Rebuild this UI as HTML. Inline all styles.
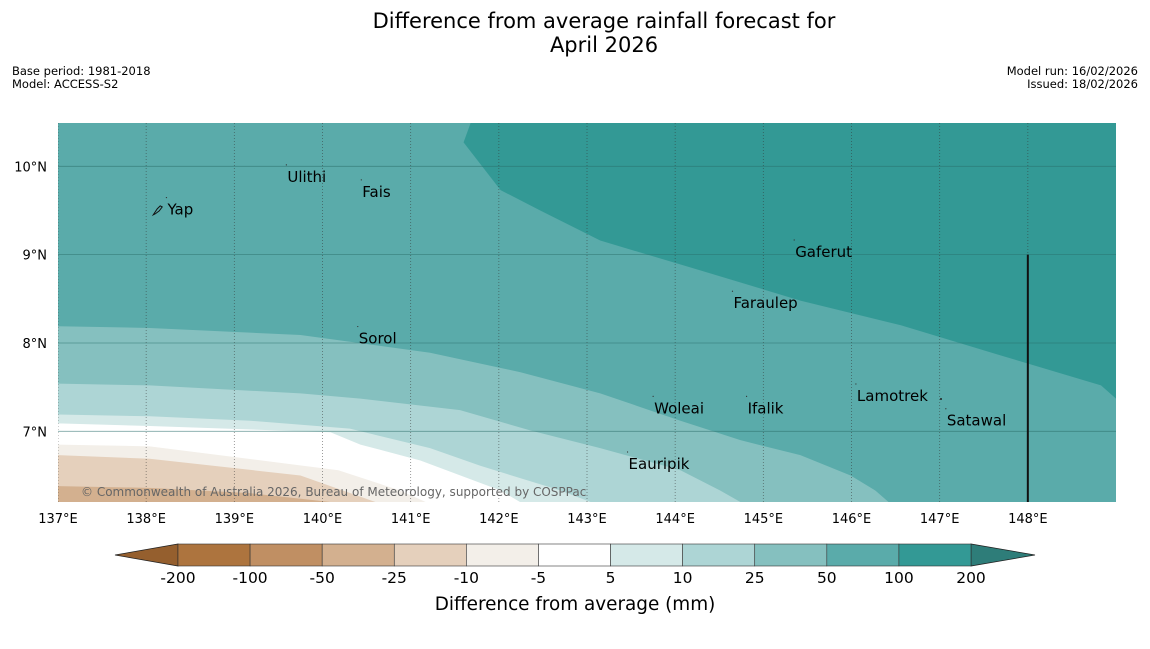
<!DOCTYPE html>
<html><head><meta charset="utf-8"><style>
body{margin:0;background:#fff;width:1150px;height:644px;overflow:hidden;font-family:"Liberation Sans","DejaVu Sans",sans-serif}
svg text{font-family:"DejaVu Sans","Liberation Sans",sans-serif}
</style></head><body>
<svg id="c" width="1150" height="644"></svg>
<script>
const levels=["-200","-100","-50","-25","-10","-5","5","10","25","50","100","200"];
const colors=["#ad743e","#c08f63","#d3b08f","#e5d0bc","#f3efe9","#ffffff","#d5e9e8","#add5d5","#85c0bf","#5aabaa","#339995"];
const lonTicks=[137,138,139,140,141,142,143,144,145,146,147,148];
const latTicks=[10,9,8,7];
const c100Lon=[141.68,141.6,142.02,142.47,143.15,144.29,145.42,146.56,147.69,148.83,149.0];
const c100Lat=[10.49,10.27,9.73,9.5,9.16,8.82,8.48,8.2,7.86,7.52,7.37];
const c50Lon=[137,138.04,139.75,141.22,142.24,143.15,144.06,144.74,145.42,145.99,146.27,146.42];
const c50Lat=[8.19,8.17,8.09,7.89,7.67,7.43,7.12,6.9,6.73,6.5,6.33,6.2];
const c25Lon=[137,138.04,139.75,140.43,141.56,142.36,143.15,144.06,144.51,144.74];
const c25Lat=[7.54,7.52,7.43,7.37,7.24,7.01,6.81,6.56,6.33,6.2];
const c10Lon=[137,138.04,139.18,140.31,141.22,141.79,142.7,143.04];
const c10Lat=[7.19,7.17,7.12,7.03,6.81,6.61,6.33,6.2];
const c5Lon=[137,138.04,140.09,140.43,141.11,142.02,142.24];
const c5Lat=[7.09,7.06,6.99,6.85,6.67,6.33,6.2];
const cm5Lon=[137,138.04,140.18,140.88,141.17];
const cm5Lat=[6.85,6.83,6.56,6.33,6.2];
const cm10Lon=[137,138.04,139.75,140.6];
const cm10Lat=[6.73,6.69,6.5,6.2];
const cm25Lon=[137,138.04,139.18,140.09];
const cm25Lat=[6.38,6.36,6.3,6.2];
const places=["Ulithi","Fais","Yap","Gaferut","Faraulep","Sorol","Woleai","Ifalik","Lamotrek","Satawal","Eauripik"];
const placeLon=[139.59,140.44,138.23,145.35,144.65,140.4,143.75,144.81,146.05,147.07,143.46];
const placeLat=[9.88,9.71,9.51,9.03,8.45,8.05,7.26,7.26,7.4,7.12,6.63];

const NS="http://www.w3.org/2000/svg",svg=document.getElementById('c');
const X0=58,X1=1116,Y0=123,Y1=502;
const lonMin=137,lonMax=149,latMin=6.2,latMax=10.49;
const xs=lon=>X0+(lon-lonMin)/(lonMax-lonMin)*(X1-X0);
const ys=lat=>Y1-(lat-latMin)/(latMax-latMin)*(Y1-Y0);
function el(t,a,p){const e=document.createElementNS(NS,t);for(const k in a)e.setAttribute(k,a[k]);(p||svg).appendChild(e);return e;}
function txt(s,a,p){const e=el('text',a,p);e.textContent=s;return e;}
const cp=el('clipPath',{id:'mc'});el('rect',{x:X0,y:Y0,width:X1-X0,height:Y1-Y0},cp);
const g=el('g',{'clip-path':'url(#mc)'});


el('rect',{x:X0,y:Y0,width:X1-X0,height:Y1-Y0,fill:colors[10]},g);
function below(lons,lats,col,name,top){
  let pts=lons.map((l,i)=>xs(l)+','+ys(lats[i]));
  pts=[...pts,xs(lonMax)+','+ys(latMin),xs(lonMin)+','+ys(latMin)];
  if(top) pts=[xs(lonMin)+','+Y0,...pts];
  const p=el('polygon',{points:pts.join(' '),fill:col},g);
  
  
}
below(c100Lon,c100Lat,colors[9],'contour-50-100',true);
below(c50Lon,c50Lat,colors[8],'contour-25-50');
below(c25Lon,c25Lat,colors[7],'contour-10-25');
below(c10Lon,c10Lat,colors[6],'contour-5-10');
below(c5Lon,c5Lat,colors[5],'contour-neg5-5');
below(cm5Lon,cm5Lat,colors[4],'contour-neg10-neg5');
below(cm10Lon,cm10Lat,colors[3],'contour-neg25-neg10');
below(cm25Lon,cm25Lat,colors[2],'contour-neg50-neg25');
lonTicks.forEach(l=>{const x=xs(l);
  const ln=el('line',{x1:x,x2:x,y1:Y0,y2:Y1,stroke:'#333','stroke-width':0.8,'stroke-dasharray':'1,2',opacity:0.6},g);
  
  
  const t=txt(l+'°E',{x:x,y:523,'font-size':13,'text-anchor':'middle',fill:'#000'});
  
  
});
latTicks.forEach(l=>{const y=ys(l);
  const ln=el('line',{x1:X0,x2:X1,y1:y,y2:y,stroke:'#2a6e6a','stroke-width':0.8,opacity:0.6},g);
  
  
  const t=txt(l+'°N',{x:47,y:y+5,'font-size':13,'text-anchor':'end',fill:'#000'});
  
  
});
const bl=el('line',{x1:xs(148),x2:xs(148),y1:ys(9),y2:Y1,stroke:'#111','stroke-width':2},g);


const yap=el('path',{d:`M${xs(138.08)} ${ys(9.45)} l4 -6 l3 -3 l2 1 l-3 4 l-4 3 z`,fill:'none',stroke:'#111','stroke-width':1},g);


places.forEach((p,i)=>{const x=xs(placeLon[i]),y=ys(placeLat[i]);
  el('circle',{cx:x,cy:y-12,r:0.6,fill:'#333'},g);
  const t=txt(p,{x:x+1,y:y+5,'font-size':15,fill:'#000'},g);
  
  
});
el('circle',{cx:941,cy:399,r:1,fill:'#222'},g);
const cr=txt('© Commonwealth of Australia 2026, Bureau of Meteorology, supported by COSPPac',{x:81,y:496,'font-size':12,fill:'#666'},g);



[['Difference from average rainfall forecast for',28],['April 2026',52]].forEach(([s,y],i)=>{
  const t=txt(s,{x:604,y:y,'font-size':21,'text-anchor':'middle',fill:'#000'});
  
  
});
[['Base period: 1981-2018',12,75,'start','base-period'],['Model: ACCESS-S2',12,88,'start','model-name'],['Model run: 16/02/2026',1138,75,'end','model-run'],['Issued: 18/02/2026',1138,88,'end','issued-date']].forEach(a=>{
  const t=txt(a[0],{x:a[1],y:a[2],'font-size':11.5,'text-anchor':a[3],fill:'#000'});
  
  
});
const cb=el('g',{});


const CB0=178,CB1=971,CY0=544,CY1=566,seg=(CB1-CB0)/11;
const lt=el('polygon',{points:`${CB0},${CY0} ${CB0},${CY1} 115,555`,fill:'#955f2e',stroke:'#222','stroke-width':0.8},cb);


const rt=el('polygon',{points:`${CB1},${CY0} ${CB1},${CY1} 1035,555`,fill:'#2e7d79',stroke:'#222','stroke-width':0.8},cb);


colors.forEach((col,i)=>{
  const r=el('rect',{x:CB0+i*seg,y:CY0,width:seg,height:CY1-CY0,fill:col,stroke:'#333','stroke-width':0.6},cb);
  
  
});
levels.forEach((l,i)=>{
  const t=txt(l,{x:CB0+i*seg,y:583,'font-size':15.5,'text-anchor':'middle',fill:'#000'},cb);
  
  
});
const ct=txt('Difference from average (mm)',{x:575,y:610,'font-size':18.4,'text-anchor':'middle',fill:'#000'});


</script>
</body></html>
